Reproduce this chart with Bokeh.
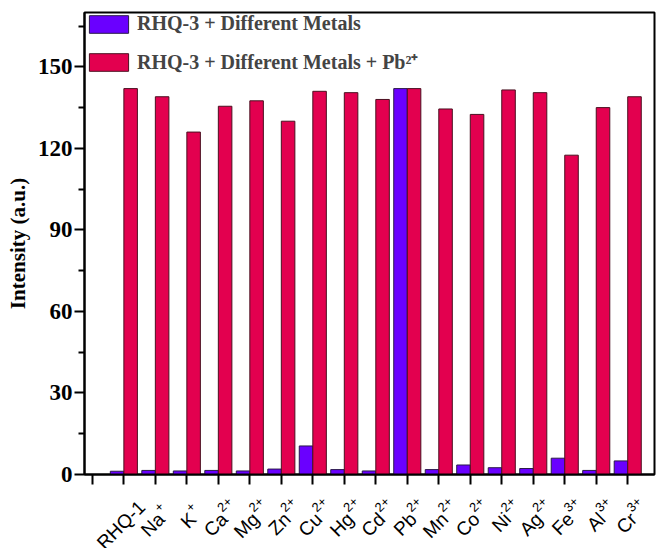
import math
from bokeh.plotting import figure
from bokeh.layouts import column
from bokeh.models import ColumnDataSource, FixedTicker, Range1d, Legend, LegendItem, Label
from bokeh.transform import dodge
from bokeh.embed import file_html
from bokeh.resources import INLINE

label_base = ["RHQ-1", "Na", "K", "Ca", "Mg", "Zn", "Cu", "Hg", "Cd", "Pb", "Mn",
              "Co", "Ni", "Ag", "Fe", "Al", "Cr"]
label_sup = ["", "+", "+", "2+", "2+", "2+", "2+", "2+", "2+", "2+", "2+",
             "2+", "2+", "2+", "3+", "3+", "3+"]
metals = [1.2, 1.5, 1.3, 1.5, 1.3, 2.0, 10.5, 1.8, 1.3, 142.0, 1.8, 3.5, 2.5, 2.2, 6.0, 1.5, 5.0]
metals_pb = [142.0, 139.0, 126.0, 135.5, 137.5, 130.0, 141.0, 140.5, 138.0, 142.0, 134.5,
             132.5, 141.5, 140.5, 117.5, 135.0, 139.0]
y_ticks = [0, 30, 60, 90, 120, 150]
y_minor = [15, 45, 75, 105, 135, 165]

pos = list(range(1, len(label_base) + 1))
src = ColumnDataSource(dict(x=pos, a=metals, b=metals_pb))

FONT = "Liberation Serif"
W = 656
LEFT = 84
RIGHT = 2
H1 = 486
H2 = 548 - H1

p = figure(width=W, height=H1, output_backend="svg", toolbar_location=None,
           x_range=Range1d(-0.25, 17.85), y_range=Range1d(0, 170),
           min_border_left=LEFT, min_border_right=RIGHT, min_border_top=12, min_border_bottom=12)

r1 = p.vbar(x=dodge("x", -0.215, range=p.x_range), top="a", width=0.43, source=src,
            fill_color="#6A00FF", line_color="#2a1a4a", line_width=1)
r2 = p.vbar(x=dodge("x", 0.215, range=p.x_range), top="b", width=0.43, source=src,
            fill_color="#E3004F", line_color="#4a1020", line_width=1)

p.xgrid.visible = False
p.ygrid.visible = False
p.outline_line_color = "black"
p.outline_line_width = 2

p.xaxis.ticker = FixedTicker(ticks=list(range(0, len(label_base) + 1)))
p.xaxis.major_label_overrides = {i: "" for i in range(0, len(label_base) + 1)}
p.xaxis.major_label_text_font_size = "0px"
p.xaxis.major_label_standoff = 0
p.xaxis.minor_tick_line_color = None

p.yaxis.ticker = FixedTicker(ticks=y_ticks, minor_ticks=y_minor)
p.yaxis.axis_label = "Intensity (a.u.)"
p.yaxis.major_label_text_font_size = "23px"
p.yaxis.major_label_standoff = 2

for ax in (p.xaxis, p.yaxis):
    ax.axis_line_width = 2
    ax.major_tick_line_width = 2
    ax.minor_tick_line_width = 2
    ax.major_tick_out = 10
    ax.major_tick_in = 0
    ax.minor_tick_out = 6
    ax.minor_tick_in = 0
    ax.major_label_text_font = FONT
    ax.major_label_text_font_style = "bold"
    ax.major_label_text_color = "black"
    ax.axis_label_text_font = FONT
    ax.axis_label_text_font_style = "bold"
    ax.axis_label_text_font_size = "21px"
    ax.axis_label_text_color = "black"

legend = Legend(items=[LegendItem(label="RHQ-3 + Different Metals", renderers=[r1]),
                       LegendItem(label="RHQ-3 + Different Metals + Pb\u00b2\u207a", renderers=[r2])],
                location="top_left")
legend.border_line_color = None
legend.background_fill_alpha = 0
legend.label_text_font = FONT
legend.label_text_font_style = "bold"
legend.label_text_font_size = "20px"
legend.glyph_width = 49
legend.glyph_height = 22
legend.spacing = 13
legend.margin = 0
legend.padding = 2
legend.label_standoff = 4
p.add_layout(legend)

# second strip under the plot: rotated category labels
q = figure(width=W, height=H2, output_backend="svg", toolbar_location=None,
           x_range=p.x_range, y_range=Range1d(0, H2),
           x_axis_type=None, y_axis_type=None,
           min_border_left=LEFT, min_border_right=RIGHT, min_border_top=0, min_border_bottom=0)
q.outline_line_color = None
q.xgrid.visible = False
q.ygrid.visible = False

c45 = math.cos(math.pi / 4)
ang = math.pi / 4
for i, (b, s) in enumerate(zip(label_base, label_sup)):
    shift = 17 if s else 0
    ex = 18.0 - shift * c45
    ey = 44.5 - shift * c45
    q.add_layout(Label(x=i + 1, y=ey, x_offset=ex, text=b, angle=ang,
                       text_align="right", text_baseline="alphabetic",
                       text_font_size="19px", text_color="black"))
    if s:
        q.add_layout(Label(x=i + 1, y=ey + c45 + 8 * c45, x_offset=ex + c45 - 8 * c45, text=s,
                           angle=ang, text_align="left", text_baseline="alphabetic",
                           text_font_size="13px", text_color="black"))

layout = column(p, q, spacing=0)
open("out.html", "w").write(file_html(layout, INLINE))
